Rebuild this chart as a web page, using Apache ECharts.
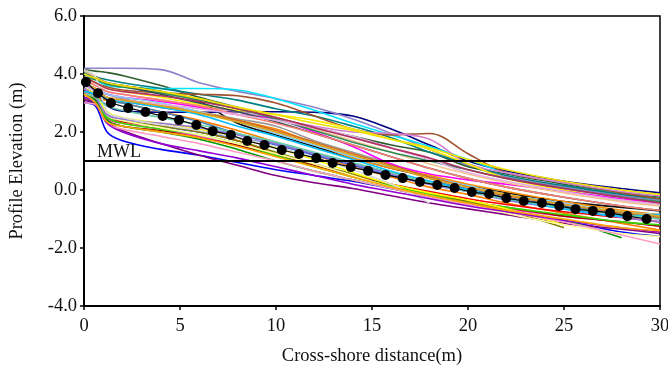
<!DOCTYPE html>
<html>
<head>
<meta charset="utf-8">
<script src="https://cdn.jsdelivr.net/npm/echarts@6/dist/echarts.min.js"></script>
<style>
html,body{margin:0;padding:0;background:#fff;}
#chart{width:668px;height:365px;}
</style>
</head>
<body>
<div id="chart"></div>
<script>
// Cross-shore positions (m) at which each profile is sampled
const xGrid = [0, 0.6, 1.2, 2, 4, 6, 8, 10, 12, 14, 16, 18, 20, 22, 25, 28, 30];

// Individual beach profiles (elevation, m) at xGrid; null = profile ended
const pNavy      = [3.5, 3.3, 2.9, 2.72, 2.68, 2.68, 2.7, 2.7, 2.68, 2.55, 2.1, 1.55, 1.0, 0.65, 0.3, 0.05, -0.1];
const pLavender  = [4.2, 4.2, 4.2, 4.2, 4.15, 3.7, 3.4, 3.15, 2.85, 2.45, 1.95, 1.4, 0.85, 0.45, 0.1, -0.2, -0.35];
const pDkGreen   = [4.15, 4.1, 4.05, 3.95, 3.6, 3.2, 2.85, 2.5, 2.15, 1.85, 1.55, 1.3, 0.8, 0.55, 0.2, -0.1, -0.25];
const pCyan      = [4.1, 3.8, 3.6, 3.55, 3.5, 3.5, 3.45, 3.15, 2.75, 2.3, 1.9, 1.5, 1.05, 0.6, 0.25, -0.1, -0.3];
const pTeal      = [4.0, 3.9, 3.8, 3.7, 3.5, 3.3, 3.1, 2.8, 2.55, 2.2, 1.8, 1.3, 0.9, 0.5, 0.15, -0.15, -0.3];
const pBrown     = [3.9, 3.7, 3.55, 3.45, 3.35, 3.3, 3.25, 3.0, 2.55, 2.1, 1.9, 1.95, 1.25, 0.6, 0.25, -0.1, -0.3];
const pOrchid    = [3.8, 3.6, 3.4, 3.3, 3.1, 2.9, 2.7, 2.45, 2.2, 2.0, 1.95, 1.75, 0.9, 0.6, 0.25, -0.05, -0.2];
const pBlack     = [4.1, 3.9, 3.7, 3.6, 3.4, 3.05, 2.3, 1.9, 1.5, 1.1, 0.75, 0.45, 0.15, -0.1, -0.4, -0.6, -0.72];
const pGray      = [3.7, 3.5, 3.3, 3.15, 2.9, 2.7, 2.45, 2.2, 1.7, 1.3, 0.9, 0.4, 0.0, -0.3, -0.55, -0.75, -0.85];
const pYellow1   = [3.9, 3.7, 3.5, 3.4, 3.2, 2.95, 2.75, 2.6, 2.4, 2.1, 1.75, 1.4, 0.9, 0.4, 0.0, -0.35, -0.5];
const pMagenta1  = [3.6, 3.45, 3.3, 3.2, 3.05, 2.85, 2.6, 2.45, 2.0, 1.5, 0.9, 0.55, 0.35, 0.2, -0.05, -0.3, -0.45];
const pMagenta2  = [3.4, 3.0, 2.45, 2.3, 2.1, 1.85, 1.55, 1.2, 0.85, 0.45, 0.15, -0.15, -0.45, -0.65, -0.9, -1.1, -1.25];
const pOrange1   = [3.3, 3.25, 3.2, 3.1, 2.95, 2.7, 2.4, 2.1, 1.6, 1.1, 0.75, 0.5, 0.2, -0.05, -0.4, -0.7, -0.85];
const pOrange2   = [3.2, 3.15, 3.1, 3.0, 2.7, 2.4, 2.05, 1.65, 1.2, 0.8, 0.45, 0.1, -0.15, -0.45, -0.8, -1.15, -1.38];
const pRed       = [3.5, 3.1, 2.5, 2.35, 2.2, 2.0, 1.7, 1.25, 0.85, 0.5, 0.2, -0.05, -0.3, -0.5, -0.75, -0.95, -1.1];
const pDkRed     = [3.1, 3.0, 2.4, 2.2, 2.05, 1.8, 1.55, 1.2, 0.85, 0.5, 0.15, -0.2, -0.4, -0.6, -0.9, -1.1, -1.25];
const pBlue      = [3.0, 2.9, 2.0, 1.7, 1.4, 1.2, 0.95, 0.7, 0.5, 0.3, 0.05, -0.2, -0.45, -0.7, -1.05, -1.45, -1.6];
const pRoyal     = [3.3, 3.1, 2.6, 2.4, 2.2, 2.0, 1.8, 1.55, 1.2, 0.85, 0.5, 0.2, -0.05, -0.3, -0.6, -0.85, -1.0];
const pPurple    = [3.1, 2.95, 2.35, 2.05, 1.6, 1.2, 0.85, 0.5, 0.25, 0.05, -0.2, -0.45, -0.65, -0.85, -1.15, -1.35, -1.5];
const pGreen     = [3.3, 3.1, 2.4, 2.2, 2.0, 1.75, 1.4, 1.0, 0.65, 0.35, 0.05, -0.25, -0.5, -0.75, -1.05, -1.65, null];
const pLime      = [3.2, 3.0, 2.5, 2.3, 2.1, 1.9, 1.6, 1.2, 0.8, 0.45, 0.15, -0.15, -0.4, -0.6, -0.85, -1.1, -1.2];
const pOlive     = [3.4, 3.2, 2.6, 2.4, 2.2, 2.0, 1.7, 1.3, 0.9, 0.55, 0.2, -0.1, -0.4, -0.7, -1.3, null, null];
const pYellow2   = [3.5, 3.3, 2.7, 2.5, 2.3, 2.1, 1.8, 1.45, 1.05, 0.6, 0.2, -0.1, -0.35, -0.65, -1.2, null, null];
const pPaleYel   = [3.3, 3.2, 2.6, 2.4, 2.15, 1.9, 1.6, 1.25, 0.9, 0.5, 0.1, -0.2, -0.5, -0.8, -1.2, -1.5, -1.6];
const pPink      = [3.0, 2.95, 2.3, 2.1, 1.85, 1.6, 1.3, 1.0, 0.65, 0.35, 0.05, -0.25, -0.5, -0.75, -1.1, -1.55, -1.86];
const pLtBlue    = [3.7, 3.5, 3.3, 3.2, 3.0, 2.7, 2.35, 1.95, 1.55, 1.15, 0.8, 0.45, 0.15, -0.15, -0.45, -0.75, -0.85];
const pSteel     = [3.6, 3.4, 3.1, 3.0, 2.7, 2.35, 1.95, 1.6, 1.25, 0.9, 0.6, 0.3, 0.05, -0.25, -0.55, -0.8, -0.95];
const pTan       = [4.1, 3.9, 3.7, 3.6, 3.35, 3.1, 2.8, 2.5, 2.1, 1.7, 1.3, 0.9, 0.55, 0.25, -0.1, -0.4, -0.55];
const pSeaGreen  = [3.9, 3.8, 3.65, 3.55, 3.35, 3.1, 2.8, 2.45, 2.05, 1.65, 1.3, 1.0, 0.7, 0.4, 0.05, -0.25, -0.4];
const pSlate     = [4.0, 3.85, 3.7, 3.6, 3.3, 3.0, 2.7, 2.35, 1.95, 1.55, 1.15, 0.75, 0.4, 0.1, -0.25, -0.55, -0.7];
const pViolet    = [3.5, 3.2, 2.6, 2.45, 2.3, 2.15, 1.9, 1.6, 1.25, 0.9, 0.55, 0.2, -0.05, -0.35, -0.65, -0.95, -1.1];
const pSalmon    = [3.8, 3.6, 3.4, 3.3, 3.1, 2.9, 2.6, 2.3, 1.95, 1.55, 1.15, 0.75, 0.4, 0.1, -0.25, -0.55, -0.7];
const pChoc      = [3.3, 3.2, 3.1, 3.05, 2.85, 2.65, 2.4, 2.05, 1.65, 1.25, 0.85, 0.45, 0.1, -0.2, -0.5, -0.8, -0.95];
const pLtGray    = [4.15, 3.9, 2.7, 2.5, 2.25, 2.05, 1.8, 1.5, 1.1, 0.7, 0.2, -0.45, null, null, null, null, null];
const pSky       = [3.4, 3.3, 3.15, 3.05, 2.85, 2.6, 2.2, 1.85, 1.45, 1.05, 0.65, 0.3, 0.0, -0.3, -0.65, -0.9, -0.85];
const pPlum      = [3.6, 3.4, 3.2, 3.1, 2.95, 2.8, 2.6, 2.4, 2.15, 1.85, 1.45, 1.05, 0.6, 0.3, -0.05, -0.35, -0.5];
const pAqua      = [3.3, 3.2, 2.9, 2.75, 2.5, 2.25, 1.95, 1.65, 1.3, 0.95, 0.6, 0.25, -0.05, -0.3, -0.6, -0.85, -1.0];
const pGold      = [3.7, 3.5, 3.2, 3.1, 2.9, 2.65, 2.35, 2.0, 1.6, 1.2, 0.8, 0.4, 0.1, -0.15, -0.5, -0.75, -0.9];
const pMaroon    = [3.9, 3.7, 3.5, 3.4, 3.25, 3.05, 2.8, 2.5, 2.15, 1.8, 1.45, 1.1, 0.7, 0.4, 0.05, -0.25, -0.45];
const pDkViolet  = [3.2, 3.0, 2.3, 2.0, 1.6, 1.35, 1.1, 0.8, 0.5, 0.2, -0.05, -0.3, -0.55, -0.75, -1.05, -1.3, -1.45];
const pYellow3   = [4.0, 3.85, 3.7, 3.6, 3.4, 3.15, 2.85, 2.6, 2.3, 2.05, 1.75, 1.45, 1.05, 0.7, 0.3, 0.0, -0.15];
const pOrange3   = [3.3, 3.0, 2.35, 2.2, 2.0, 1.8, 1.5, 1.15, 0.8, 0.45, 0.1, -0.2, -0.45, -0.7, -1.0, -1.3, -1.4];

const profiles = [pNavy, pLavender, pDkGreen, pCyan, pTeal, pBrown, pOrchid, pBlack, pGray, pYellow1,
  pMagenta1, pMagenta2, pOrange1, pOrange2, pRed, pDkRed, pBlue, pRoyal, pPurple, pGreen,
  pLime, pOlive, pYellow2, pPaleYel, pPink, pLtBlue, pSteel, pTan, pSeaGreen, pSlate,
  pViolet, pSalmon, pChoc, pLtGray, pSky, pPlum, pAqua, pGold, pMaroon, pDkViolet, pYellow3, pOrange3];
const profileColors = ['#000080', '#8c82c8', '#2e5e2e', '#00e5ff', '#008080', '#a0522d', '#d77fd2', '#111111', '#9a9a9a', '#ffee00',
  '#ff00ff', '#ff33cc', '#ff8c00', '#ff7f00', '#ff0000', '#a00000', '#0000ff', '#4169e1', '#800080', '#009900',
  '#33dd00', '#808000', '#ffff00', '#ffffa0', '#ff9ec4', '#87cefa', '#4682b4', '#f4c28c', '#2e8b57', '#2f4f4f',
  '#9370db', '#fa8072', '#d2691e', '#d8d8d8', '#00bfff', '#e2b0e2', '#66cdaa', '#daa520', '#b03060', '#9400d3', '#f0e000', '#ffa500'];

// Mean profile (black dots)
const meanX = [0.1, 0.73, 1.4, 2.3, 3.2, 4.1, 4.95, 5.85, 6.7, 7.65, 8.5, 9.4, 10.3, 11.2, 12.1, 12.95, 13.9, 14.8, 15.7, 16.6, 17.5, 18.4, 19.3, 20.2, 21.1, 22.0, 22.9, 23.85, 24.75, 25.6, 26.5, 27.4, 28.3, 29.3];
const meanY = [3.72, 3.34, 3.0, 2.83, 2.69, 2.55, 2.41, 2.24, 2.03, 1.9, 1.69, 1.55, 1.38, 1.24, 1.1, 0.93, 0.79, 0.66, 0.52, 0.41, 0.28, 0.17, 0.07, -0.07, -0.14, -0.28, -0.38, -0.45, -0.55, -0.66, -0.72, -0.79, -0.9, -1.0];

const mwlLevel = 1.0;
const xTicks = [0, 5, 10, 15, 20, 25, 30];
const yTicks = [-4, -2, 0, 2, 4, 6];

const serif = '"Liberation Serif", "Times New Roman", serif';
const chart = echarts.init(document.getElementById('chart'));

const series = profiles.map((p, i) => ({
  type: 'line',
  data: xGrid.map((x, j) => [x, p[j]]),
  smooth: 0.35,
  showSymbol: false,
  symbol: 'none',
  connectNulls: false,
  lineStyle: { color: profileColors[i], width: 1.6 },
  z: 2,
  silent: true
}));

series.push({
  type: 'line',
  data: [],
  markLine: {
    silent: true,
    symbol: 'none',
    label: { show: false },
    lineStyle: { color: '#000', width: 2, type: 'solid' },
    data: [{ yAxis: mwlLevel }]
  },
  z: 3
});

series.push({
  type: 'line',
  data: meanX.map((x, i) => [x, meanY[i]]),
  symbol: 'circle',
  symbolSize: 10,
  showSymbol: true,
  itemStyle: { color: '#000' },
  lineStyle: { color: '#000', width: 1.2 },
  z: 5
});

chart.setOption({
  animation: false,
  backgroundColor: '#fff',
  grid: { left: 84, right: 8, top: 16, bottom: 59, show: true, borderColor: '#000', borderWidth: 1.5,
    containLabel: false, outerBoundsMode: 'none' },
  xAxis: {
    type: 'value', min: 0, max: 30, interval: 5,
    name: 'Cross-shore distance(m)', nameLocation: 'middle', nameGap: 41,
    nameTextStyle: { fontFamily: serif, fontSize: 18.5, color: '#111' },
    axisLine: { show: true, onZero: false, lineStyle: { color: '#000', width: 2 } },
    axisTick: { show: true, inside: false, length: 4, lineStyle: { color: '#000', width: 1.5 } },
    axisLabel: { fontFamily: serif, fontSize: 18.5, color: '#111', margin: 11,
      formatter: v => xTicks.includes(v) ? String(v) : '' },
    splitLine: { show: false }
  },
  yAxis: {
    type: 'value', min: -4, max: 6, interval: 2,
    name: 'Profile Elevation (m)', nameLocation: 'middle', nameGap: 57, nameRotate: 90,
    nameTextStyle: { fontFamily: serif, fontSize: 18.5, color: '#111' },
    axisLine: { show: true, onZero: false, lineStyle: { color: '#000', width: 2 } },
    axisTick: { show: true, inside: false, length: 4, lineStyle: { color: '#000', width: 1.5 } },
    axisLabel: { fontFamily: serif, fontSize: 18.5, color: '#111', margin: 7,
      formatter: v => yTicks.includes(v) ? v.toFixed(1) : '' },
    splitLine: { show: false }
  },
  graphic: [{
    type: 'text', left: 97, top: 143,
    style: { text: 'MWL', font: '18px ' + serif, fill: '#111' }
  }],
  series: series
});
</script>
</body>
</html>
